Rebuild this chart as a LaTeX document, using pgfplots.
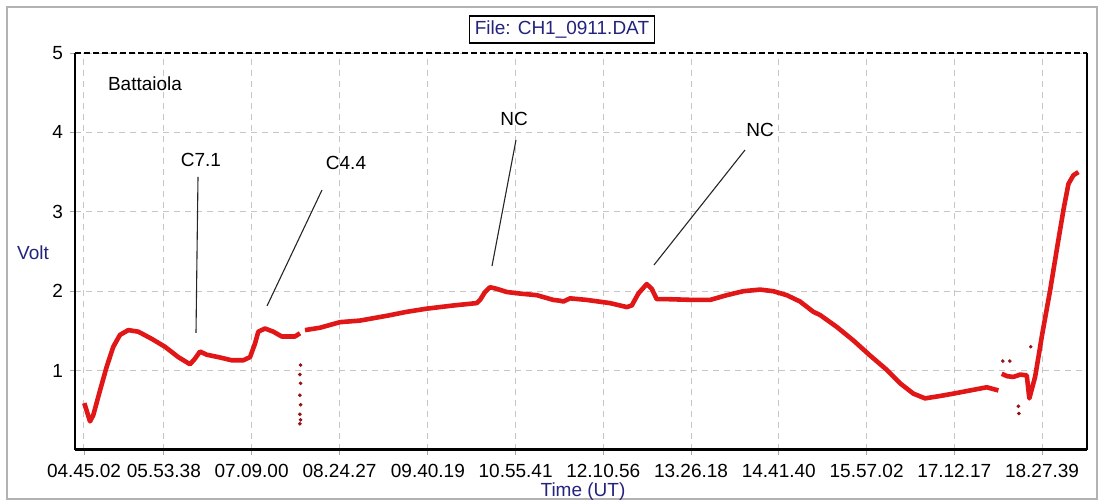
\documentclass[border=0pt]{standalone}
\usepackage{pgfplots}
\pgfplotsset{compat=1.18}
\usepackage{fontspec}
\setmainfont{Liberation Sans}
\definecolor{navy}{RGB}{35,35,125}
\definecolor{datared}{RGB}{225,22,22}
\definecolor{darkdot}{RGB}{150,20,20}
\begin{document}
\begin{tikzpicture}[x=0.5pt,y=0.5pt]
\useasboundingbox (0,0) rectangle (1104,502);
\draw[gray!60, line width=0.6pt] (7,3) rectangle (1097,495);
\begin{axis}[
  at={(37.5pt,26pt)}, anchor=south west,
  scale only axis, width=506pt, height=198.5pt,
  xmin=4.622, xmax=19.105, ymin=0, ymax=5,
  xtick={4.7506,5.8939,7.15,8.4075,9.6719,10.928,12.182,13.438,14.694,15.951,17.205,18.461},
  xticklabels={04.45.02,05.53.38,07.09.00,08.24.27,09.40.19,10.55.41,12.10.56,13.26.18,14.41.40,15.57.02,17.12.17,18.27.39},
  ytick={1,2,3,4,5},
  xtick pos=left, ytick pos=left,
  grid=major,
  grid style={gray!45, dash pattern=on 3pt off 2.5pt, line width=0.5pt},
  tick align=outside, major tick length=2.5pt,
  tick style={gray!70, line width=0.4pt},
  axis line style={draw=none},
  tick label style={font=\fontsize{9.5}{11}\selectfont},
  xticklabel style={yshift=-1pt},
  /pgf/number format/assume math mode=true,
  clip=false,
]
% segment 1
\addplot[datared, line width=2.3pt, line join=round] coordinates {
(4.755,0.59) (4.837,0.36) (4.884,0.44) (4.980,0.75) (5.076,1.05) (5.170,1.30)
(5.266,1.45) (5.385,1.51) (5.528,1.49) (5.720,1.40) (5.910,1.30) (6.100,1.17)
(6.268,1.08) (6.339,1.15) (6.411,1.24) (6.507,1.20) (6.673,1.17) (6.865,1.13)
(7.031,1.13) (7.127,1.17) (7.198,1.34) (7.245,1.49) (7.341,1.53) (7.460,1.49)
(7.580,1.43) (7.771,1.43) (7.842,1.47)
};
% segment 2
\addplot[datared, line width=2.3pt, line join=round] coordinates {
(7.914,1.51) (8.129,1.54) (8.415,1.61) (8.701,1.63) (9.083,1.69) (9.369,1.74)
(9.656,1.78) (10.036,1.82) (10.371,1.85) (10.419,1.89) (10.490,1.99) (10.562,2.05)
(10.657,2.03) (10.801,1.99) (10.991,1.97) (11.230,1.95) (11.468,1.89) (11.564,1.88)
(11.611,1.87) (11.707,1.91) (11.946,1.89) (12.279,1.85) (12.518,1.80) (12.590,1.82)
(12.684,1.97) (12.804,2.09) (12.876,2.03) (12.947,1.90) (13.091,1.90) (13.471,1.89)
(13.710,1.89) (13.949,1.95) (14.187,2.00) (14.426,2.02) (14.616,2.00) (14.808,1.95)
(14.998,1.87) (15.189,1.74) (15.285,1.70) (15.524,1.55) (15.761,1.38) (16.000,1.19)
(16.239,1.01) (16.430,0.84) (16.620,0.71) (16.787,0.65) (17.002,0.68) (17.193,0.71)
(17.432,0.75) (17.671,0.79) (17.837,0.75)
};
% segment 3
\addplot[datared, line width=2.3pt, line join=round] coordinates {
(17.885,0.96) (17.96,0.93) (18.051,0.92) (18.15,0.95) (18.243,0.94) (18.280,0.65)
(18.362,0.92) (18.410,1.17) (18.458,1.43) (18.577,2.01) (18.672,2.52) (18.767,3.02)
(18.839,3.35) (18.910,3.46) (18.982,3.50)
};
% scattered dropouts
\addplot[only marks, mark=*, mark size=0.7pt, darkdot] coordinates {
(7.85,1.07) (7.84,0.95) (7.85,0.84) (7.84,0.69) (7.85,0.57) (7.84,0.45) (7.85,0.38) (7.84,0.33)
(18.123,0.55) (18.13,0.46) (17.90,1.12) (18.00,1.12) (18.30,1.30)
};
\end{axis}
% frame lines of the plot area
\draw[black, line width=1.2pt] (75,52) -- (75,449);
\draw[black, line width=1.5pt] (75,52) -- (1087,52);
\draw[black, line width=0.8pt, dash pattern=on 3pt off 1.5pt] (75,449) -- (1087,449);
\draw[black, line width=0.6pt] (1087,52) -- (1087,449);
% texts
\node[font=\fontsize{9.5}{11}\selectfont] at (145,418) {Battaiola};
\node[font=\fontsize{9.5}{11}\selectfont] at (201,342) {C7.1};
\node[font=\fontsize{9.5}{11}\selectfont] at (346,339) {C4.4};
\node[font=\fontsize{9.5}{11}\selectfont] at (514,383) {NC};
\node[font=\fontsize{9.5}{11}\selectfont] at (760,372) {NC};
\draw[black!85, line width=0.55pt] (198,325) -- (196,169);
\draw[black!85, line width=0.55pt] (322,312) -- (267,196);
\draw[black!85, line width=0.55pt] (516,362) -- (492,236);
\draw[black!85, line width=0.55pt] (745,352) -- (654,237);
\node[font=\fontsize{9.5}{11}\selectfont, text=navy] at (33,249) {Volt};
\node[font=\fontsize{9.5}{11}\selectfont, text=navy] at (583,10) {Time (UT)};
\node[draw=black, line width=0.6pt, font=\fontsize{9.5}{11}\selectfont, text=navy,
      minimum width=92.5pt, minimum height=13.5pt, inner sep=1pt] at (562,472.5) {File: CH1\_0911.DAT};
\end{tikzpicture}
\end{document}
